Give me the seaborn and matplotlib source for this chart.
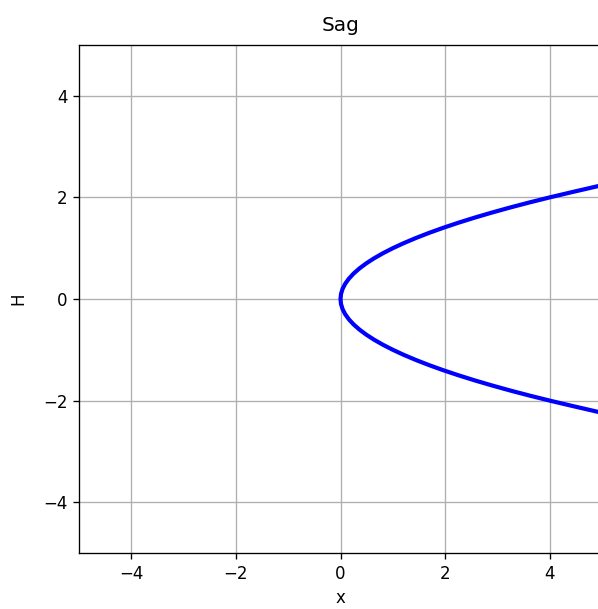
import numpy as np
import pandas as pd
import matplotlib
matplotlib.use("Agg")
import matplotlib.pyplot as plt
import seaborn as sns

# curve: sag x against height H
H_vals = [-2.24, -2.1, -2.0, -1.9, -1.8, -1.7, -1.6, -1.5, -1.4, -1.3, -1.2, -1.1,
          -1.0, -0.9, -0.8, -0.7, -0.6, -0.5, -0.4, -0.3, -0.2, -0.1, 0.0,
          0.1, 0.2, 0.3, 0.4, 0.5, 0.6, 0.7, 0.8, 0.9, 1.0, 1.1, 1.2, 1.3,
          1.4, 1.5, 1.6, 1.7, 1.8, 1.9, 2.0, 2.1, 2.24]
x_vals = [5.0, 4.41, 4.0, 3.61, 3.24, 2.89, 2.56, 2.25, 1.96, 1.69, 1.44, 1.21,
          1.0, 0.81, 0.64, 0.49, 0.36, 0.25, 0.16, 0.09, 0.04, 0.01, 0.0,
          0.01, 0.04, 0.09, 0.16, 0.25, 0.36, 0.49, 0.64, 0.81, 1.0, 1.21, 1.44, 1.69,
          1.96, 2.25, 2.56, 2.89, 3.24, 3.61, 4.0, 4.41, 5.0]

df = pd.DataFrame({"x": x_vals, "H": H_vals})

dpi = 120
fig = plt.figure(figsize=(598 / dpi, 609 / dpi), dpi=dpi)
# axes run a bit past the right edge, as in the cropped original
ax = fig.add_axes([79 / 598, 56 / 609, 523 / 598, 508 / 609])

sns.lineplot(data=df, x="x", y="H", sort=False, estimator=None,
             color="blue", linewidth=2.5, ax=ax)

ax.set_xlim(-5, 5)
ax.set_ylim(-5, 5)
ax.set_xticks([-4, -2, 0, 2, 4])
ax.set_yticks([-4, -2, 0, 2, 4])
ax.grid(True)
ax.spines["right"].set_visible(False)  # cut off in the original
ax.set_title("Sag", pad=8.5)
ax.set_xlabel("x")
ax.set_ylabel("H", labelpad=9)

fig.savefig("out.png", dpi=dpi)
